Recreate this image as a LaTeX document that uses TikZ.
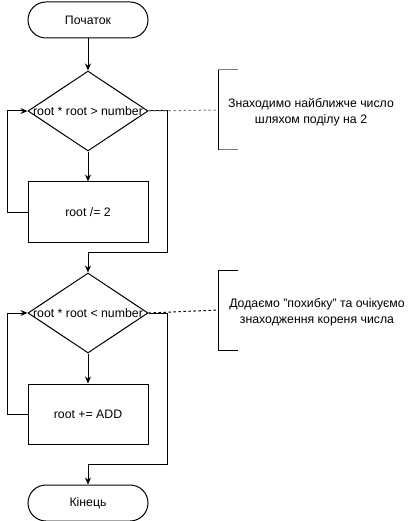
\documentclass[tikz,border=0pt]{standalone}
\usepackage{fontspec}
\setmainfont{Liberation Sans}
\usetikzlibrary{positioning,shapes.geometric,arrows.meta}

\begin{document}
\begin{tikzpicture}[x=1pt,y=-1pt,line width=1pt,
    font=\fontsize{12.3}{16}\selectfont,
    term/.style={draw,rectangle,rounded corners=18pt,minimum width=120pt,minimum height=36pt},
    cond/.style={draw,diamond,minimum width=120pt,minimum height=80pt,inner sep=0pt},
    box/.style={draw,rectangle,minimum width=120pt,minimum height=60pt},
    arr/.style={-{Stealth[length=7pt,width=6pt]}},
    note/.style={align=center},
    link/.style={dash pattern=on 2.5pt off 2.5pt}]
    \useasboundingbox (0,0) rectangle (418,521);

    \node[term] (start) at (88,20) {Початок};
    \node[cond,below=32pt of start,label=center:{root * root > number}] (cond1) {};
    \node[box,below=30pt of cond1] (div) {root /= 2};
    \node[cond,below=30pt of div,label=center:{root * root < number}] (cond2) {};
    \node[box,below=30pt of cond2] (add) {root += ADD};
    \node[term,below=40pt of add] (stop) {Кінець};

    % notes
    \coordinate (br1) at (218,110);
    \coordinate (br2) at (218,310);
    \node[note] (note1) at (311,112) {Знаходимо найближче число\\шляхом поділу на 2};
    \node[note] (note2) at (317,312) {Додаємо "похибку" та очікуємо\\знаходження кореня числа};
    \draw[gray] ([shift={(20pt,40pt)}]br1) -- ([yshift=40pt]br1);
    \draw[gray] ([shift={(20pt,-40pt)}]br1) -- ([yshift=-40pt]br1);
    \draw ([yshift=40pt]br1) -- ([yshift=-40pt]br1);
    \draw ([shift={(20pt,40pt)}]br2) -- ([yshift=40pt]br2) -- ([yshift=-40pt]br2) -- ([shift={(20pt,-40pt)}]br2);

    \draw[arr] (start) -- (cond1);
    \draw[arr] (cond1) -- (div);
    \draw[arr] (div.west) -- ++(-20,0) |- (cond1.west);
    \draw[arr] (cond1.east) -- ++(19,0) |- ([yshift=20pt]cond2.north) -- (cond2.north);
    \draw[arr] (cond2) -- (add);
    \draw[arr] (add.west) -- ++(-20,0) |- (cond2.west);
    \draw[arr] (cond2.east) -- ++(19,0) |- ([yshift=20pt]stop.north) -- (stop.north);
    \draw[link,gray] (cond1.east) -- (br1);
    \draw[link] (cond2.east) -- (br2);
\end{tikzpicture}
\end{document}
